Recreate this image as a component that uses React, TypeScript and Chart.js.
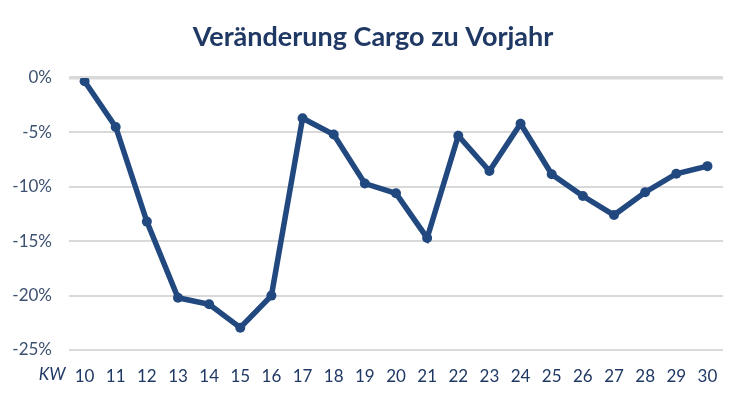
import React, { useEffect, useRef } from "react";
import { Chart, registerables } from "chart.js";

Chart.register(...registerables);

const weeks = ["10","11","12","13","14","15","16","17","18","19","20","21","22","23","24","25","26","27","28","29","30"];
const changePct = [-0.3, -4.5, -13.2, -20.2, -20.8, -22.95, -20.0, -3.7, -5.2, -9.7, -10.6, -14.7, -5.3, -8.55, -4.2, -8.85, -10.85, -12.6, -10.5, -8.8, -8.1];
const titleText = "Veränderung Cargo zu Vorjahr";
const axisLabel = "KW";

const FONT = "Lato, 'Open Sans', sans-serif";
const LINE = "#22497f";
const NAVY = "#1f3864";

const textPlugin = {
  id: "extraText",
  afterDraw(chart: any) {
    const x = chart.scales.x;
    const ctx = chart.ctx;
    ctx.save();
    ctx.fillStyle = NAVY;
    ctx.textBaseline = "middle";
    ctx.font = "bold 27px " + FONT;
    ctx.textAlign = "center";
    ctx.fillText(titleText, 373, 37);
    ctx.font = "italic 17px " + FONT;
    ctx.textAlign = "right";
    ctx.fillText(axisLabel, x.getPixelForValue(0) - 19, 375);
    ctx.restore();
  },
};

export default function App() {
  const ref = useRef<HTMLCanvasElement>(null);
  useEffect(() => {
    document.body.style.margin = "0";
    const chart = new Chart(ref.current!, {
      type: "line",
      data: {
        labels: weeks,
        datasets: [
          {
            data: changePct,
            borderColor: LINE,
            backgroundColor: LINE,
            borderWidth: 5.5,
            pointRadius: 5,
            pointBorderWidth: 0,
            pointBackgroundColor: LINE,
            tension: 0,
          },
        ],
      },
      options: {
        responsive: false,
        animation: false,
        layout: { padding: { left: 0, right: 24, top: 78, bottom: 0 } },
        plugins: {
          legend: { display: false },
          tooltip: { enabled: false },
          title: { display: false },
        },
        scales: {
          x: {
            offset: true,
            grid: { display: false, drawTicks: false },
            border: { display: false },
            ticks: {
              color: NAVY,
              font: { family: FONT, size: 17 },
              padding: 16,
              maxRotation: 0,
              autoSkip: false,
            },
            afterFit(s: any) {
              s.height = 49;
            },
          },
          y: {
            min: -25,
            max: 0,
            grid: {
              drawTicks: false,
              color: "#d9d9d9",
              lineWidth: (c: any) => (c.tick && c.tick.value === 0 ? 3.5 : 2),
            },
            border: { display: false },
            ticks: {
              stepSize: 5,
              color: "#3d5170",
              font: { family: FONT, size: 17 },
              padding: 17,
              callback: (v: any) => v + "%",
            },
            afterFit(s: any) {
              s.width = 69;
            },
          },
        },
      },
      plugins: [textPlugin],
    } as any);
    return () => chart.destroy();
  }, []);
  return (
    <div style={{ width: 747, height: 399, background: "#fff" }}>
      <canvas ref={ref} width={747} height={399} style={{ display: "block" }} />
    </div>
  );
}
